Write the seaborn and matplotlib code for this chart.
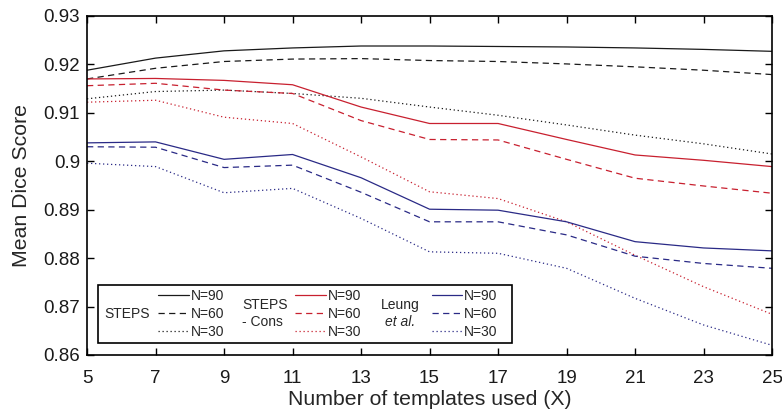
import matplotlib
matplotlib.use("Agg")
import matplotlib.pyplot as plt
from matplotlib.ticker import FuncFormatter
from matplotlib.patches import Rectangle
import seaborn as sns

# number of templates used (X)
templates = [5, 7, 9, 11, 13, 15, 17, 19, 21, 23, 25]

# STEPS
steps_90 = [0.9188, 0.9213, 0.9228, 0.9234, 0.9238, 0.9238, 0.9237, 0.9236, 0.9234, 0.9231, 0.9227]
steps_60 = [0.9170, 0.9192, 0.9206, 0.9211, 0.9212, 0.9208, 0.9206, 0.9201, 0.9195, 0.9188, 0.9179]
steps_30 = [0.9129, 0.9144, 0.9147, 0.9140, 0.9130, 0.9112, 0.9095, 0.9075, 0.9054, 0.9036, 0.9015]

# STEPS - Cons
cons_90 = [0.9170, 0.9171, 0.9167, 0.9158, 0.9112, 0.9078, 0.9078, 0.9045, 0.9013, 0.9002, 0.8989]
cons_60 = [0.9156, 0.9161, 0.9147, 0.9140, 0.9084, 0.9045, 0.9044, 0.9004, 0.8965, 0.8949, 0.8934]
cons_30 = [0.9122, 0.9126, 0.9091, 0.9078, 0.9009, 0.8937, 0.8923, 0.8875, 0.8806, 0.8741, 0.8684]

# Leung et al.
leung_90 = [0.9038, 0.9040, 0.9004, 0.9014, 0.8966, 0.8901, 0.8899, 0.8875, 0.8834, 0.8821, 0.8815]
leung_60 = [0.9030, 0.9029, 0.8987, 0.8992, 0.8936, 0.8875, 0.8875, 0.8848, 0.8804, 0.8789, 0.8779]
leung_30 = [0.8996, 0.8989, 0.8935, 0.8944, 0.8882, 0.8813, 0.8810, 0.8779, 0.8717, 0.8662, 0.8620]

n_labels = ["N=90", "N=60", "N=30"]

sns.set_style("ticks")
plt.rcParams["font.family"] = ["Liberation Sans", "DejaVu Sans"]

BLACK = "#1a1a1a"
RED = "#c8202f"
BLUE = "#2a2a86"
styles = ["-", (0, (5, 3.5)), (0, (1, 2.2))]

groups = [
    (BLACK, [steps_90, steps_60, steps_30]),
    (RED, [cons_90, cons_60, cons_30]),
    (BLUE, [leung_90, leung_60, leung_30]),
]

fig = plt.figure(figsize=(7.82, 4.15), dpi=100)
ax = fig.add_axes([0.1113, 0.1446, 0.876, 0.8169])

handles = []
for color, series in groups:
    hs = []
    for vals, ls in zip(series, styles):
        sns.lineplot(x=templates, y=vals, color=color, linestyle=ls,
                     linewidth=0.9, ax=ax, legend=False)
        hs.append(ax.lines[-1])
    handles.append(hs)

ax.set_xlim(5, 25)
ax.set_ylim(0.86, 0.93)
ax.set_xticks(templates)
ax.set_yticks([0.86, 0.87, 0.88, 0.89, 0.90, 0.91, 0.92, 0.93])
ax.yaxis.set_major_formatter(FuncFormatter(lambda v, p: f"{v:g}"))
ax.tick_params(direction="in", top=True, right=True, length=5, width=1,
               labelsize=13.5, color="black", labelcolor="#1a1a1a")
ax.tick_params(axis="x", pad=11)
ax.tick_params(axis="y", pad=5)
for sp in ax.spines.values():
    sp.set_linewidth(1.2)
    sp.set_color("black")

ax.set_xlabel("Number of templates used (X)", fontsize=15.3, labelpad=2)
ax.set_ylabel("Mean Dice Score", fontsize=15.3, labelpad=9)

# legend box
ax.add_patch(Rectangle((0.016, 0.035), 0.604, 0.171, transform=ax.transAxes,
                       facecolor="white", edgecolor="black", linewidth=1.2, zorder=5))

tkw = dict(transform=ax.transAxes, va="center", fontsize=10, zorder=6)
ax.text(0.058, 0.122, "STEPS", ha="center", **tkw)
ax.text(0.226, 0.147, "STEPS", ha="left", **tkw)
ax.text(0.226, 0.098, "- Cons", ha="left", **tkw)
ax.text(0.457, 0.147, "Leung", ha="center", **tkw)
ax.text(0.457, 0.098, "et al.", ha="center", style="italic", **tkw)

handle_x = [0.104, 0.304, 0.503]
for i in range(3):
    leg = ax.legend(handles[i], n_labels, loc="center left",
                    bbox_to_anchor=(handle_x[i], 0.122), frameon=False,
                    fontsize=10, handlelength=2.2, handletextpad=0.15,
                    labelspacing=0.28, borderpad=0, borderaxespad=0)
    leg.set_zorder(7)
    if i < 2:
        ax.add_artist(leg)

fig.savefig("out.png", dpi=100)
